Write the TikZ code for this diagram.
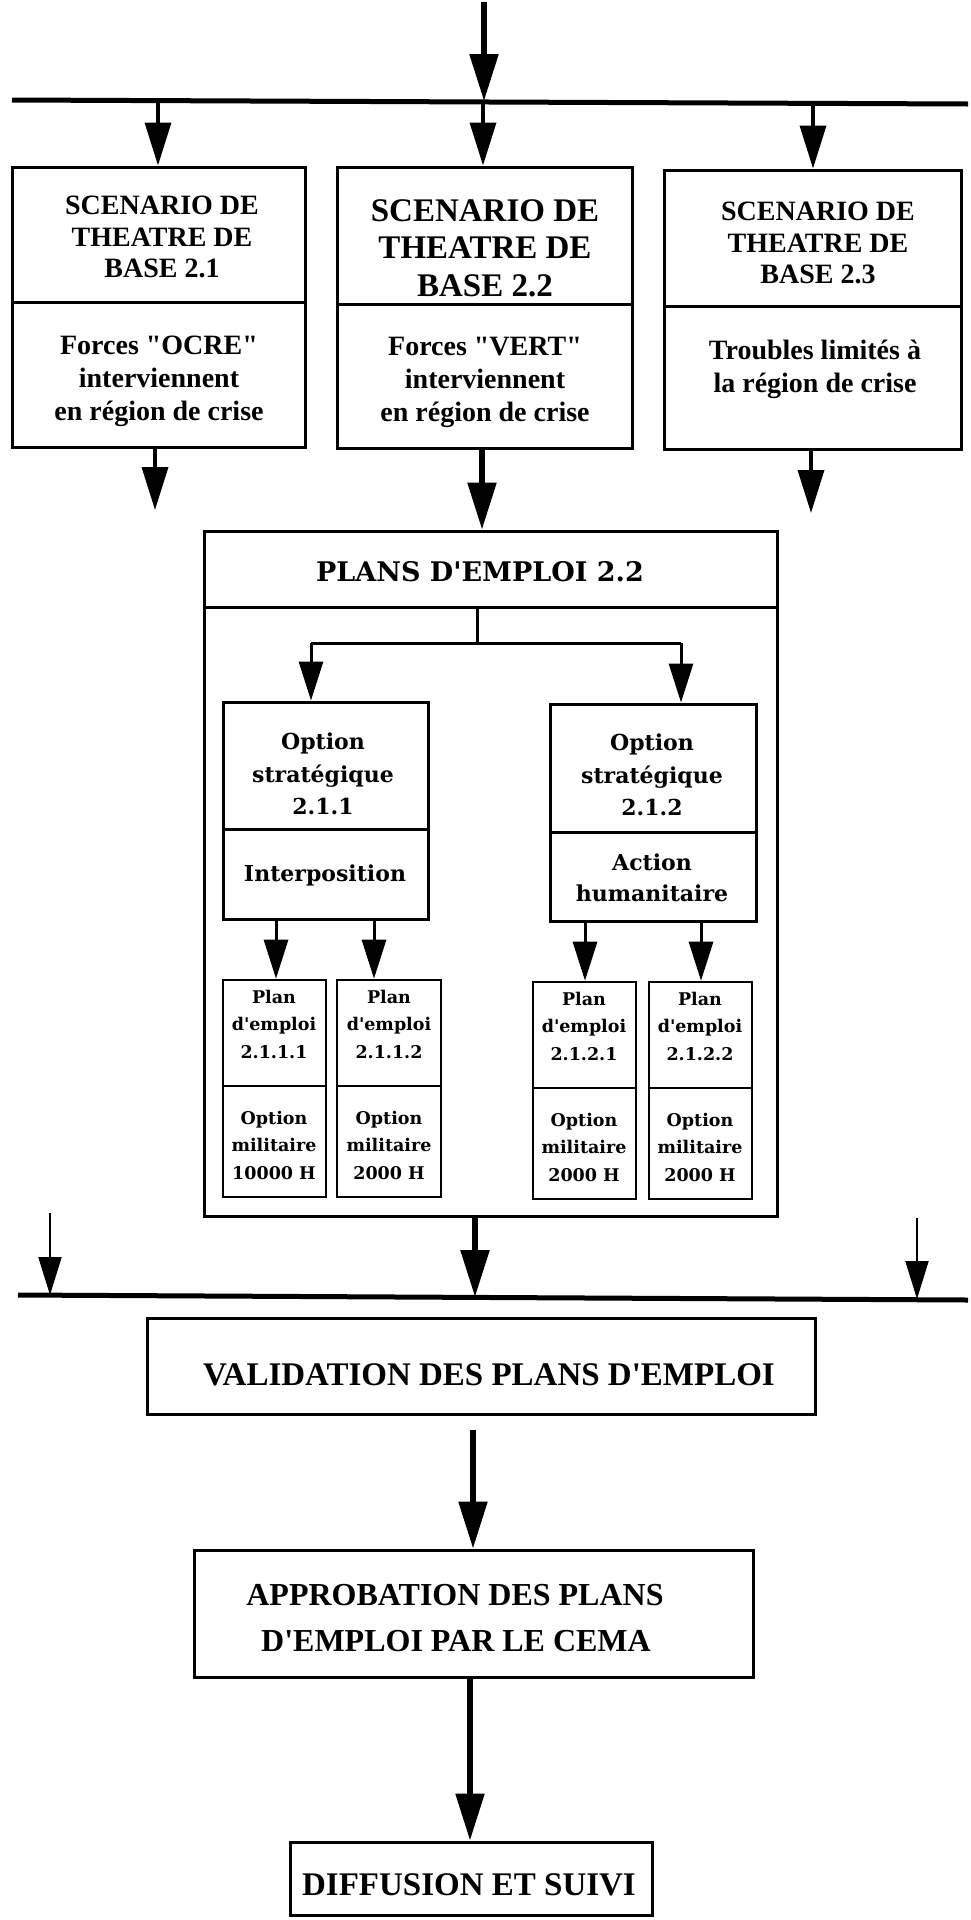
\documentclass[tikz,border=0pt]{standalone}
\usepackage{fontspec}
\setmainfont{Liberation Serif}[Ligatures=TeXOff]
\newfontfamily\csfont{DejaVu Serif}[Ligatures=TeXOff]
\usetikzlibrary{arrows.meta,fit}
\tikzset{
  bx/.style={draw, line width=3pt, inner sep=0pt},
  sbx/.style={draw, line width=2.6pt, inner sep=0pt},
  barline/.style={line width=5pt},
  shaft/.style={line width=3pt},
  arrA/.style={-{Triangle[length=43pt,width=26pt]}, line width=3.5pt},
  arrB/.style={-{Triangle[length=47pt,width=28pt]}, line width=5.5pt},
  arrI/.style={-{Triangle[length=39pt,width=24pt]}, line width=3pt},
  arrT/.style={-{Triangle[length=38pt,width=23pt]}, line width=2pt},
  tA/.style={font=\fontsize{28}{31.5}\selectfont\bfseries, align=center, inner sep=0pt},
  tAb/.style={font=\fontsize{28}{33}\selectfont\bfseries, align=center, inner sep=0pt},
  tBig/.style={font=\fontsize{33}{37.5}\selectfont\bfseries, align=center, inner sep=0pt},
  tLow/.style={font=\fontsize{33}{40}\selectfont\bfseries, align=center, inner sep=0pt},
  tP/.style={font=\csfont\fontsize{27}{30}\selectfont\bfseries, align=center, inner sep=0pt},
  tO/.style={font=\csfont\fontsize{22}{32.5}\selectfont\bfseries, align=center, inner sep=0pt},
  tS/.style={font=\csfont\fontsize{17.5}{27.5}\selectfont\bfseries, align=center, inner sep=0pt},
}
\begin{document}
\begin{tikzpicture}[x=1pt,y=-1pt]
\useasboundingbox (0,0) rectangle (970,1920);

% ---------- top bar and arrows
\coordinate (j0) at (484,2);
\coordinate (k0) at (484,101);
\coordinate (bar1L) at (12,100);
\coordinate (bar1R) at (968,104);
\draw[barline] (bar1L) -- (bar1R);
\draw[arrB] (j0) -- (k0);
\coordinate (k1) at (158,101);
\coordinate (k2) at (483,102);
\coordinate (k3) at (813,103);

% ---------- three scenario boxes
\node[bx, fit={(12,167) (305,302)}] (b1t) {};
\node[bx, fit={(12,302) (305,447)}] (b1b) {};
\node[bx, fit={(337,167) (632,304)}] (b2t) {};
\node[bx, fit={(337,304) (632,448)}] (b2b) {};
\node[bx, fit={(664,170) (961,306)}] (b3t) {};
\node[bx, fit={(664,306) (961,449)}] (b3b) {};

\draw[arrA] (k1) -- (k1 |- b1t.north);
\draw[arrA] (k2) -- (k2 |- b2t.north);
\draw[arrA] (k3) -- (k3 |- b3t.north);

\node[tA] (s1) at (162,237) {SCENARIO DE\\THEATRE DE\\BASE 2.1};
\node[tBig] (s2) at (485,248) {SCENARIO DE\\THEATRE DE\\BASE 2.2};
\node[tA] (s3) at (818,243) {SCENARIO DE\\THEATRE DE\\BASE 2.3};
\node[tAb] (f1) at (159,381) {Forces "OCRE"\\interviennent\\en région de crise};
\node[tAb] (f2) at (485,382) {Forces "VERT"\\interviennent\\en région de crise};
\node[tAb] (f3) at (815,369) {Troubles limités à\\la région de crise};

% ---------- arrows below scenario boxes
\coordinate (e1) at (155,510);
\coordinate (e3) at (811,513);
\draw[arrA] (b1b.south -| e1) -- (e1);
\draw[arrA] (b3b.south -| e3) -- (e3);

% ---------- plans d'emploi 2.2
\node[bx, fit={(204,531) (777,607)}] (pht) {};
\node[bx, fit={(204,607) (777,1216)}] (plb) {};
\node[tP] (ptx) at (480,572) {PLANS D'EMPLOI 2.2};
\coordinate (x482) at (482,0);
\draw[arrB] (b2b.south -| x482) -- (pht.north -| x482);

\coordinate (jn) at (477,643);
\coordinate (cL) at (311,643);
\coordinate (cR) at (681,643);
\draw[shaft] (pht.south -| jn) -- (jn);
\draw[shaft] (cL) -- (cR);

\node[bx, fit={(223,702) (428,829)}] (o1t) {};
\node[bx, fit={(223,829) (428,919)}] (o1b) {};
\node[bx, fit={(550,704) (756,832)}] (o2t) {};
\node[bx, fit={(550,832) (756,921)}] (o2b) {};
\draw[arrI] (cL) -- (cL |- o1t.north);
\draw[arrI] (cR) -- (cR |- o2t.north);

\node[tO] (ot1) at (323,774) {Option\\stratégique\\2.1.1};
\node[tO] (ob1) at (325,875) {Interposition};
\node[tO] (ot2) at (652,775) {Option\\stratégique\\2.1.2};
\node[tO, font=\csfont\fontsize{22}{31}\selectfont\bfseries] (ob2) at (652,878) {Action\\humanitaire};

% small boxes
\node[sbx, fit={(223,980) (326,1086)}] (sat) {};
\node[sbx, fit={(223,1086) (326,1197)}] (sab) {};
\node[sbx, fit={(337,980) (441,1086)}] (sbt) {};
\node[sbx, fit={(337,1086) (441,1197)}] (sbb) {};
\node[sbx, fit={(533,982) (636,1088)}] (sct) {};
\node[sbx, fit={(533,1088) (636,1199)}] (scb) {};
\node[sbx, fit={(649,982) (752,1088)}] (sdt) {};
\node[sbx, fit={(649,1088) (752,1199)}] (sdb) {};

\coordinate (x276) at (276,0);
\coordinate (x374) at (374,0);
\coordinate (x585) at (585,0);
\coordinate (x701) at (701,0);
\draw[arrI] (o1b.south -| x276) -- (sat.north -| x276);
\draw[arrI] (o1b.south -| x374) -- (sbt.north -| x374);
\draw[arrI] (o2b.south -| x585) -- (sct.north -| x585);
\draw[arrI] (o2b.south -| x701) -- (sdt.north -| x701);

\node[tS] (pa) at (274,1024) {Plan\\d'emploi\\2.1.1.1};
\node[tS] (pb) at (389,1024) {Plan\\d'emploi\\2.1.1.2};
\node[tS] (pc) at (584,1026) {Plan\\d'emploi\\2.1.2.1};
\node[tS] (pd) at (700,1026) {Plan\\d'emploi\\2.1.2.2};
\node[tS] (ma) at (274,1145) {Option\\militaire\\10000 H};
\node[tS] (mb) at (389,1145) {Option\\militaire\\2000 H};
\node[tS] (mc) at (584,1147) {Option\\militaire\\2000 H};
\node[tS] (md) at (700,1147) {Option\\militaire\\2000 H};

% ---------- lower bar
\coordinate (bar2L) at (18,1295);
\coordinate (bar2R) at (968,1300);
\draw[barline] (bar2L) -- (bar2R);
\coordinate (m0) at (475,1297);
\coordinate (s1a) at (50,1213);
\coordinate (m1) at (50,1295);
\coordinate (s2a) at (917,1218);
\coordinate (m2) at (917,1299);
\draw[arrB] (plb.south -| m0) -- (m0);
\draw[arrT] (s1a) -- (m1);
\draw[arrT] (s2a) -- (m2);

% ---------- validation, approbation, diffusion
\node[bx, fit={(147,1318) (815,1414)}] (val) {};
\node[tLow] (valt) at (489,1375) {VALIDATION DES PLANS D'EMPLOI};

\node[bx, fit={(194,1550) (753,1677)}] (apb) {};
\node[tLow, font=\fontsize{32}{40}\selectfont\bfseries] (apt1) at (455,1595) {APPROBATION DES PLANS};
\node[tLow, font=\fontsize{32}{40}\selectfont\bfseries] (apt2) at (456,1641) {D'EMPLOI PAR LE CEMA};

\node[bx, fit={(290,1842) (652,1915)}] (dif) {};
\node[tLow] (dift) at (469,1885) {DIFFUSION ET SUIVI};

\coordinate (x473) at (473,0);
\coordinate (x470) at (470,0);
\draw[arrB, shorten <=14pt] (val.south -| x473) -- (apb.north -| x473);
\draw[arrB] (apb.south -| x470) -- (dif.north -| x470);
\end{tikzpicture}
\end{document}
